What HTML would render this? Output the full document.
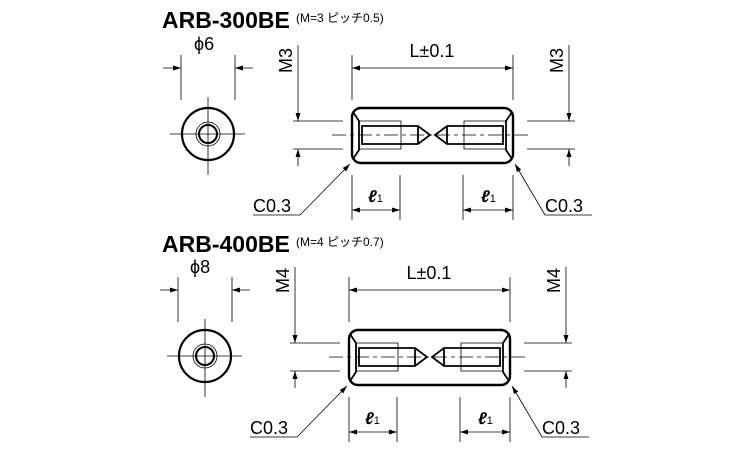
<!DOCTYPE html>
<html><head><meta charset="utf-8"><style>
html,body{margin:0;padding:0;background:#fff;width:750px;height:450px;overflow:hidden}
svg{display:block}
text{font-family:"Liberation Sans","Noto Sans CJK JP",sans-serif;fill:#000}
</style></head><body>
<svg width="750" height="450" viewBox="0 0 750 450" xmlns="http://www.w3.org/2000/svg">
<defs>
<marker id="a" markerWidth="8" markerHeight="6" refX="8" refY="3" orient="auto" markerUnits="userSpaceOnUse"><path d="M0,0.5 L8,3 L0,5.5z" fill="#000"/></marker>
<g id="part">
 <line x1="181" y1="55" x2="181" y2="100" stroke="#000" stroke-width="0.8"/>
 <line x1="235" y1="55" x2="235" y2="100" stroke="#000" stroke-width="0.8"/>
 <line x1="163" y1="68" x2="181" y2="68" stroke="#000" stroke-width="0.8" marker-end="url(#a)"/>
 <line x1="253" y1="68" x2="235" y2="68" stroke="#000" stroke-width="0.8" marker-end="url(#a)"/>
 <circle cx="208" cy="134" r="26" fill="none" stroke="#000" stroke-width="2.2"/>
 <circle cx="208" cy="134" r="12" fill="none" stroke="#000" stroke-width="0.8"/>
 <circle cx="208" cy="134" r="9" fill="none" stroke="#000" stroke-width="2"/>
 <line x1="170" y1="134" x2="245" y2="134" stroke="#000" stroke-width="0.8"/>
 <line x1="208" y1="97" x2="208" y2="175" stroke="#000" stroke-width="0.8"/>
 <rect x="352" y="108" width="161" height="55" rx="9" fill="none" stroke="#000" stroke-width="2.4"/>
 <path d="M353,112 L359,121 L359,150 L353,159 M512,112 L506,121 L506,150 L512,159" fill="none" stroke="#000" stroke-width="1.8"/>
 <path d="M359,121 H401 V149 H359 M506,121 H464 V149 H506" fill="none" stroke="#000" stroke-width="0.8"/>
 <path d="M362,126 H418 L430,135 L418,144 H362 Z M418,126 V144" fill="none" stroke="#000" stroke-width="1.8"/>
 <path d="M503,126 H447 L435,135 L447,144 H503 Z M447,126 V144" fill="none" stroke="#000" stroke-width="1.8"/>
 <line x1="332" y1="135" x2="530" y2="135" stroke="#000" stroke-width="0.8" stroke-dasharray="14,4,4,4"/>
 <line x1="293" y1="121" x2="343" y2="121" stroke="#000" stroke-width="0.8"/>
 <line x1="293" y1="149" x2="343" y2="149" stroke="#000" stroke-width="0.8"/>
 <line x1="298" y1="45" x2="298" y2="121" stroke="#000" stroke-width="0.8" marker-end="url(#a)"/>
 <line x1="298" y1="166" x2="298" y2="149" stroke="#000" stroke-width="0.8" marker-end="url(#a)"/>
 <line x1="527" y1="121" x2="575" y2="121" stroke="#000" stroke-width="0.8"/>
 <line x1="527" y1="149" x2="575" y2="149" stroke="#000" stroke-width="0.8"/>
 <line x1="569" y1="45" x2="569" y2="121" stroke="#000" stroke-width="0.8" marker-end="url(#a)"/>
 <line x1="569" y1="166" x2="569" y2="149" stroke="#000" stroke-width="0.8" marker-end="url(#a)"/>
 <line x1="352" y1="55" x2="352" y2="100" stroke="#000" stroke-width="0.8"/>
 <line x1="513" y1="55" x2="513" y2="100" stroke="#000" stroke-width="0.8"/>
 <line x1="432" y1="68" x2="352" y2="68" stroke="#000" stroke-width="0.8" marker-end="url(#a)"/>
 <line x1="432" y1="68" x2="513" y2="68" stroke="#000" stroke-width="0.8" marker-end="url(#a)"/>
 <text x="432" y="57" font-size="18" text-anchor="middle">L±0.1</text>
 <line x1="352" y1="175" x2="352" y2="220" stroke="#000" stroke-width="0.8"/>
 <line x1="400" y1="175" x2="400" y2="220" stroke="#000" stroke-width="0.8"/>
 <line x1="463" y1="175" x2="463" y2="220" stroke="#000" stroke-width="0.8"/>
 <line x1="513" y1="175" x2="513" y2="220" stroke="#000" stroke-width="0.8"/>
 <line x1="376" y1="210" x2="352" y2="210" stroke="#000" stroke-width="0.8" marker-end="url(#a)"/>
 <line x1="376" y1="210" x2="400" y2="210" stroke="#000" stroke-width="0.8" marker-end="url(#a)"/>
 <line x1="488" y1="210" x2="463" y2="210" stroke="#000" stroke-width="0.8" marker-end="url(#a)"/>
 <line x1="488" y1="210" x2="513" y2="210" stroke="#000" stroke-width="0.8" marker-end="url(#a)"/>
 <text x="368" y="202" font-size="17" font-style="italic" font-weight="bold">ℓ<tspan font-size="11" font-style="normal" font-weight="normal">1</tspan></text>
 <text x="481" y="202" font-size="17" font-style="italic" font-weight="bold">ℓ<tspan font-size="11" font-style="normal" font-weight="normal">1</tspan></text>
 <polyline points="253,215 300,215 350,164" fill="none" stroke="#000" stroke-width="0.8" marker-end="url(#a)"/>
 <polyline points="592,215 545,215 515,164" fill="none" stroke="#000" stroke-width="0.8" marker-end="url(#a)"/>
 <text x="253" y="212" font-size="18">C0.3</text>
 <text x="545" y="212" font-size="18">C0.3</text>
</g>
</defs>
<use href="#part"/>
<use href="#part" transform="translate(-3,222)"/>
<text x="162" y="28" font-size="23" font-weight="bold">ARB-300BE</text>
<text x="296" y="22" font-size="12">(M=3 ピッチ0.5)</text>
<text x="194" y="50" font-size="18">ϕ6</text>
<text transform="translate(292,73) rotate(-90)" font-size="18">M3</text>
<text transform="translate(563,73) rotate(-90)" font-size="18">M3</text>
<text x="162" y="252" font-size="23" font-weight="bold">ARB-400BE</text>
<text x="296" y="246" font-size="12">(M=4 ピッチ0.7)</text>
<text x="190" y="273" font-size="18">ϕ8</text>
<text transform="translate(289,293) rotate(-90)" font-size="18">M4</text>
<text transform="translate(560,293) rotate(-90)" font-size="18">M4</text>
</svg>
</body></html>
